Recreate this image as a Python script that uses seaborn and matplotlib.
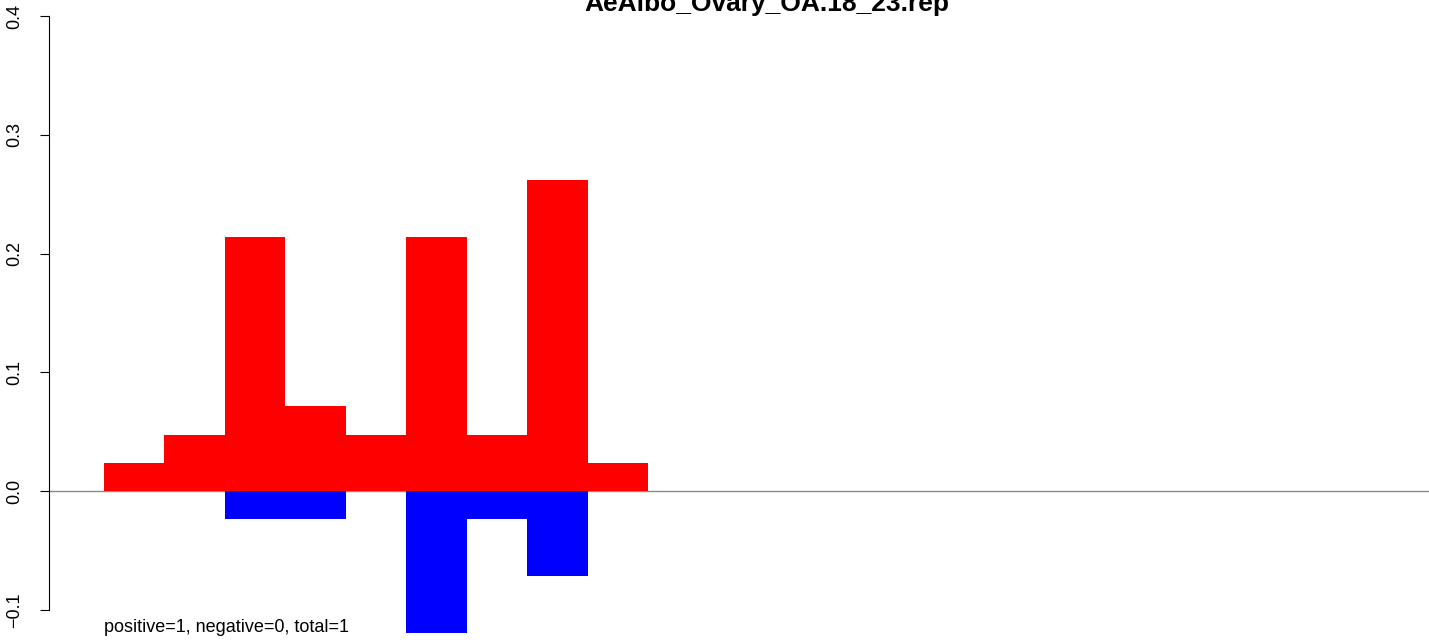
import pandas as pd
import matplotlib
matplotlib.use("Agg")
import matplotlib.pyplot as plt
import seaborn as sns

# values (fractions of reads per bin)
bins = list(range(9))
positive = [0.0238, 0.0476, 0.2143, 0.0714, 0.0476, 0.2143, 0.0476, 0.2619, 0.0238]
negative = [0.0, 0.0, -0.0238, -0.0238, 0.0, -0.1190, -0.0238, -0.0714, 0.0]
y_ticks = [-0.1, 0.0, 0.1, 0.2, 0.3, 0.4]
title = "AeAlbo_Ovary_OA.18_23.rep"
note = "positive=1, negative=0, total=1"

sns.set_style("white")
plt.rcParams["font.family"] = ["Liberation Sans", "DejaVu Sans"]
plt.rcParams["text.color"] = "black"
plt.rcParams["ytick.color"] = "black"
plt.rcParams["ytick.labelcolor"] = "black"

df = pd.DataFrame({"bin": bins, "pos": positive, "neg": negative})

W, H = 1429, 640
fig = plt.figure(figsize=(W / 100, H / 100), dpi=100)

# plot region in pixels (R style region, extends slightly past the figure)
left_px, right_px = 49, 1485
top_px, bottom_px = -7.75, 633.75
ax = fig.add_axes([left_px / W, (H - bottom_px) / H,
                   (right_px - left_px) / W, (bottom_px - top_px) / H])

ax.axhline(0, color="#8c8c8c", lw=1.0, zorder=0)
sns.barplot(data=df, x="bin", y="pos", color="#ff0000", saturation=1,
            width=1, linewidth=0, ax=ax, zorder=2)
sns.barplot(data=df, x="bin", y="neg", color="#0000ff", saturation=1,
            width=1, linewidth=0, ax=ax, zorder=2)

bar_px = 60.44
x0 = -0.5 - (104 - left_px) / bar_px
x1 = -0.5 + (right_px - 104) / bar_px
ax.set_xlim(x0, x1)
ax.set_ylim(-0.12, 0.42)

ax.set_xticks([])
ax.set_xlabel("")
ax.set_ylabel("")
ax.set_yticks(y_ticks)
ax.set_yticklabels([f"{v:.1f}".replace("-", "\u2212") for v in y_ticks],
                   rotation=90, va="center", fontsize=13)
ax.tick_params(axis="y", left=True, length=6.5, width=0.8, pad=12, color="black")

for s in ["top", "right", "bottom"]:
    ax.spines[s].set_visible(False)
ax.spines["left"].set_bounds(-0.1, 0.4)
ax.spines["left"].set_color("black")
ax.spines["left"].set_linewidth(0.8)

fig.text(767 / W, 1 - 11 / H, title, ha="center", va="baseline",
         fontsize=19, fontweight="bold", color="black")
fig.text(104 / W, 1 - 632 / H, note, ha="left", va="baseline",
         fontsize=13, color="black")

fig.savefig("out.png", dpi=100)
